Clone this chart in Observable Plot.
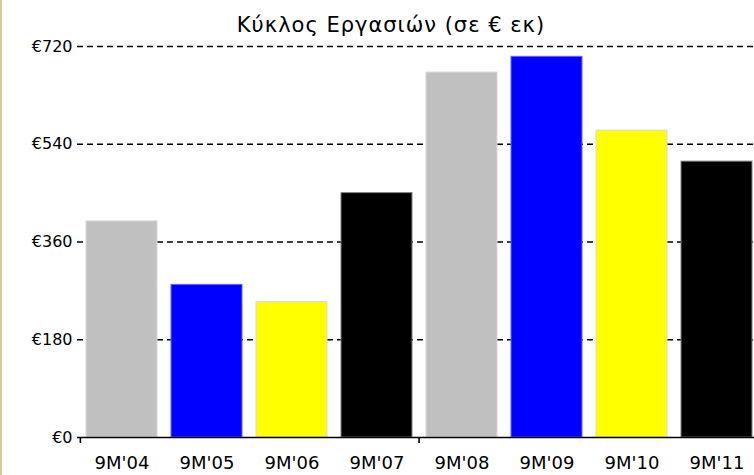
<!DOCTYPE html>
<html>
<head>
<meta charset="utf-8">
<script src="https://cdn.jsdelivr.net/npm/d3@7"></script>
<script src="https://cdn.jsdelivr.net/npm/@observablehq/plot@0.6"></script>
<style>
  html, body { margin: 0; padding: 0; background: #fff; overflow: hidden; }
  #wrap { width: 754px; height: 475px; position: relative; box-sizing: border-box; border-left: 2px solid #d9c98f; }
  #title { position: absolute; left: 0; top: 14px; width: 752px; box-sizing: border-box; line-height: 22px; font-family: "DejaVu Sans", sans-serif; font-size: 21px; letter-spacing: 1px; text-align: center; padding-left: 26px; color: #000; white-space: nowrap; }
  #chart { position: absolute; left: 0; top: 36px; }
  #chart svg { display: block; overflow: visible; }
</style>
</head>
<body>
<div id="wrap">
  <div id="title">Κύκλος Εργασιών (σε € εκ)</div>
  <div id="chart"></div>
</div>
<script>
const periods = ["9M'04", "9M'05", "9M'06", "9M'07", "9M'08", "9M'09", "9M'10", "9M'11"];
const revenue = [398, 281, 249, 450, 672, 701, 565, 508];
const barColors = ["#c0c0c0", "#0000ff", "#ffff00", "#000000", "#c0c0c0", "#0000ff", "#ffff00", "#000000"];
const yTicks = [0, 180, 360, 540, 720];

const data = periods.map((p, i) => ({period: p, value: revenue[i], color: barColors[i]}));

const width = 752, height = 439;
const ml = 75, mr = -7;
const pi = 0.17, po = 0.07;
const n = periods.length;
const step = (width - ml - mr) / (n - pi + 2 * po);
const bw = step * (1 - pi);

const chart = Plot.plot({
  width, height,
  marginLeft: ml, marginRight: mr, marginTop: 10, marginBottom: 38,
  style: {fontFamily: "DejaVu Sans, sans-serif", fontSize: "15px", color: "#000", background: "transparent", overflow: "visible"},
  x: {domain: periods, paddingInner: pi, paddingOuter: po, align: 0.5, label: null},
  y: {domain: [0, 720], label: null},
  color: {type: "identity"},
  marks: [
    Plot.ruleY(yTicks.filter(d => d > 0), {stroke: "#000", strokeWidth: 1.6, strokeDasharray: "6,4"}),
    Plot.barY(data, {x: "period", y: "value", fill: "color", stroke: d => d.color === "#000000" ? "#808080" : d.color === "#0000ff" ? "#6666ff" : "#d8d8d8", strokeWidth: 1, inset: 0}),
    Plot.ruleY([0], {stroke: "#000", strokeWidth: 1.6}),
    Plot.ruleX([periods[0]], {y1: 0, y2: 0, dx: -(po * step + bw / 2), stroke: "#000", strokeWidth: 1.6, insetBottom: -6}),
    Plot.ruleX([periods[4]], {y1: 0, y2: 0, dx: -(pi * step / 2 + bw / 2), stroke: "#000", strokeWidth: 1.6, insetBottom: -6}),
    Plot.axisX({tickSize: 0, tickPadding: 19, fontSize: 18, letterSpacing: "1.2px"}),
    Plot.axisY({ticks: yTicks, tickSize: 0, tickPadding: 5, tickFormat: d => "€" + d, fontSize: 16})
  ]
});
document.getElementById("chart").appendChild(chart);
</script>
</body>
</html>
